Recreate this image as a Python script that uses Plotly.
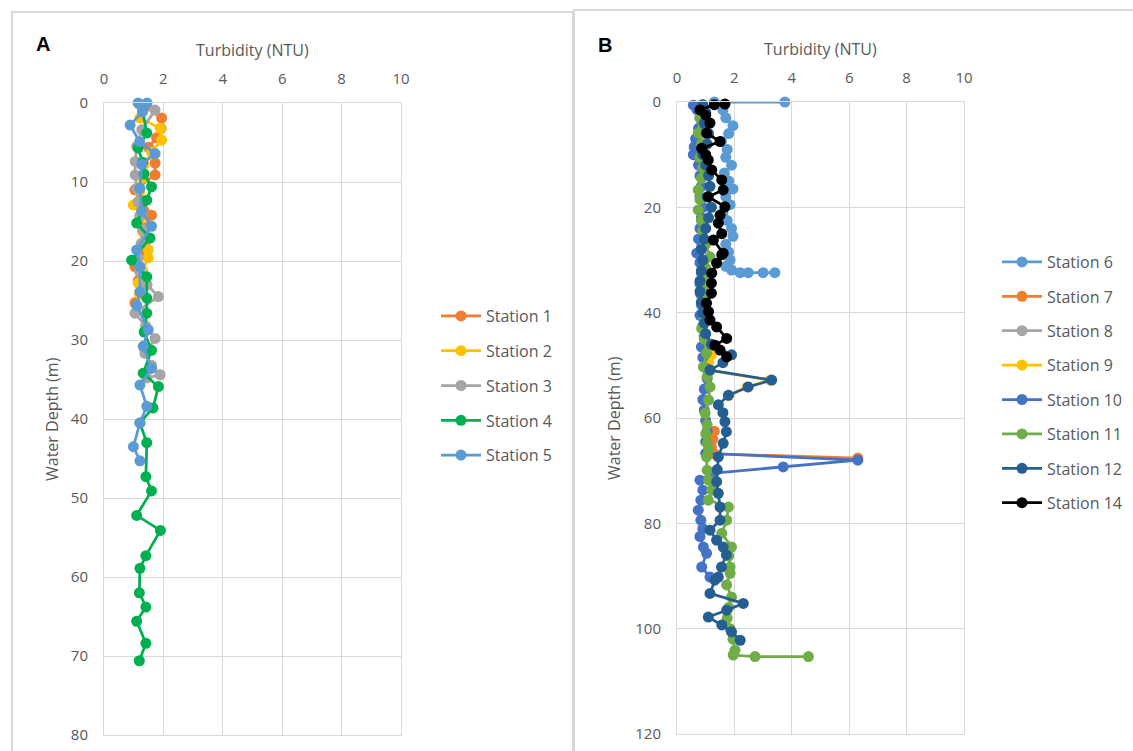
import plotly.graph_objects as go

# ---------------- Panel A data (turbidity NTU vs depth m) ----------------
s1_depth = [0.3, 1.9, 3.2, 4.4, 5.6, 7.6, 9.1, 11.0, 12.4, 14.2, 15.8, 17.5, 19.2, 20.7, 22.5, 24.0, 25.3]
s1_turb = [1.3, 1.94, 1.92, 1.77, 1.5, 1.72, 1.72, 1.04, 1.3, 1.6, 1.35, 1.4, 1.25, 1.04, 1.15, 1.2, 1.04]

s2_depth = [0.2, 1.9, 3.2, 4.7, 6.2, 7.8, 9.5, 11.2, 12.9, 14.5, 16.3, 18.6, 19.6, 21.2, 22.8, 24.2]
s2_turb = [1.2, 1.21, 1.89, 1.94, 1.6, 1.35, 1.3, 1.2, 0.99, 1.25, 1.3, 1.49, 1.49, 1.3, 1.15, 1.2]

s3_depth = [0.9, 3.4, 5.5, 7.4, 9.1, 10.8, 12.5, 14.3, 16.0, 17.8, 19.6, 21.3, 23.0, 24.5, 26.6,
            28.2, 29.8, 31.7, 33.2, 34.4, 34.8]
s3_turb = [1.72, 1.27, 1.1, 1.05, 1.05, 1.1, 1.15, 1.2, 1.3, 1.25, 1.15, 1.2, 1.45, 1.83, 1.04,
           1.4, 1.72, 1.38, 1.6, 1.89, 1.44]

s4_depth = [1.0, 3.8, 5.7, 7.5, 9.0, 10.6, 12.3, 15.2, 17.1, 19.9, 22.0, 24.7, 26.6, 29.0, 31.3,
            34.2, 35.9, 38.6, 40.5, 43.0, 47.3, 49.1, 52.2, 54.1, 57.3, 58.9, 62.0, 63.8, 65.6,
            68.4, 70.6]
s4_turb = [1.3, 1.44, 1.15, 1.3, 1.35, 1.6, 1.44, 1.1, 1.55, 0.93, 1.44, 1.44, 1.44, 1.35, 1.6,
           1.32, 1.83, 1.65, 1.21, 1.44, 1.41, 1.6, 1.1, 1.9, 1.41, 1.21, 1.19, 1.41, 1.1,
           1.41, 1.19]

s5_depth = [0.0, 0.0, 1.1, 2.8, 4.9, 6.4, 7.8, 10.8, 13.7, 15.6, 18.6, 20.7, 23.9, 25.6, 28.7,
            30.8, 33.6, 35.7, 38.4, 40.5, 43.5, 45.3]
s5_turb = [1.15, 1.45, 1.3, 0.88, 1.2, 1.72, 1.27, 1.21, 1.27, 1.6, 1.1, 1.21, 1.21, 1.1, 1.49,
           1.32, 1.6, 1.21, 1.44, 1.21, 0.99, 1.21]

# ---------------- Panel B data ----------------
s6_depth = [0.0, 0.0, 1.5, 3.0, 4.5, 6.0, 7.5, 9.0, 10.5, 12.0, 13.5, 15.0, 16.5, 18.0, 19.5,
            21.0, 22.5, 24.0, 25.5, 27.0, 28.5, 30.0, 31.2, 31.9, 32.4, 32.4, 32.4, 32.4]
s6_turb = [3.76, 1.3, 1.6, 1.7, 1.95, 1.8, 1.55, 1.75, 1.7, 1.9, 1.65, 1.8, 1.95, 1.7, 1.85,
           1.6, 1.75, 1.9, 1.95, 1.7, 1.8, 1.85, 1.7, 1.9, 2.2, 2.48, 3.0, 3.41]

s7_depth = [62.5, 64.0, 65.5, 66.8, 67.6]
s7_turb = [1.3, 1.25, 1.2, 1.3, 6.3]

s8_depth = [0.5, 2.0, 3.5, 5.0, 6.5]
s8_turb = [0.9, 1.0, 0.85, 0.95, 1.0]

s9_depth = [48.0, 49.5, 51.0, 52.8, 54.1, 55.7]
s9_turb = [1.2, 1.1, 1.15, 3.25, 2.45, 1.8]

s10_depth = [0.6, 1.5, 3.0, 5.0, 7.0, 8.5, 10.0, 12.0, 14.0, 16.0, 18.0, 20.0, 22.0, 24.0, 26.0,
             28.7, 30.5, 32.5, 34.5, 36.5, 38.5, 40.5, 42.5, 44.5, 46.5, 48.5, 50.5, 52.5, 54.5,
             56.5, 58.5, 60.5, 62.5, 64.5, 66.7, 68.0, 69.3, 70.5, 71.8, 73.7, 75.6, 77.5, 79.4,
             81.0, 82.5, 84.5, 85.7, 88.3, 90.2]
s10_turb = [0.57, 0.7, 0.8, 0.75, 0.65, 0.6, 0.57, 0.75, 0.8, 0.85, 0.8, 0.9, 0.85, 0.8, 0.75,
            0.69, 0.8, 0.85, 0.8, 0.82, 0.85, 0.8, 0.9, 0.95, 0.85, 0.9, 1.0, 1.05, 0.95,
            0.9, 0.95, 1.0, 1.05, 1.0, 1.0, 6.3, 3.7, 1.2, 0.8, 0.9, 0.83, 0.74, 0.83,
            0.9, 0.8, 0.92, 1.03, 0.86, 1.15]

s11_depth = [1.0, 3.0, 5.9, 8.0, 10.5, 12.5, 14.5, 16.7, 18.5, 20.5, 22.5, 24.5, 27.0, 29.4, 31.5,
             33.5, 35.5, 37.5, 39.5, 41.5, 43.0, 45.0, 47.7, 50.3, 52.2, 54.1, 56.6, 59.1, 61.3,
             63.0, 64.8, 66.0, 67.4, 69.9, 71.8, 73.7, 75.6, 76.9, 79.4, 81.9, 84.5, 86.2, 88.3,
             89.5, 91.7, 94.0, 96.0, 98.0, 100.0, 102.0, 104.1, 105.0, 105.3, 105.3]
s11_turb = [0.9, 0.8, 0.74, 0.85, 0.8, 0.9, 0.85, 0.74, 0.8, 0.74, 0.85, 0.9, 1.0, 1.15, 1.0,
            0.95, 0.9, 0.92, 1.0, 0.95, 0.86, 0.95, 1.03, 0.92, 1.05, 1.15, 1.1, 0.98, 1.05,
            1.0, 1.05, 1.1, 1.03, 1.05, 1.1, 1.21, 1.09, 1.79, 1.73, 1.56, 1.9, 1.8, 1.85,
            1.85, 1.73, 1.9, 1.8, 1.75, 1.85, 1.95, 2.02, 1.96, 2.72, 4.58]

s12_depth = [0.5, 2.0, 4.0, 6.0, 8.0, 10.0, 12.0, 14.0, 16.0, 18.0, 20.0, 22.0, 24.0, 26.0, 28.0,
             30.0, 32.0, 34.0, 36.0, 38.0, 40.0, 42.0, 44.0, 46.0, 48.0, 49.5, 50.9, 52.8, 54.1,
             55.7, 57.5, 59.0, 60.7, 62.6, 64.8, 67.4, 69.8, 72.1, 74.3, 76.9, 79.4, 81.3, 83.2,
             84.5, 86.0, 88.3, 90.2, 90.8, 93.3, 95.2, 96.5, 97.8, 99.3, 100.6, 102.2]
s12_turb = [0.9, 1.0, 0.95, 1.1, 1.05, 0.9, 1.0, 1.1, 1.15, 1.05, 1.2, 1.1, 1.0, 0.95, 0.85,
            0.9, 0.85, 0.8, 0.8, 0.85, 0.9, 0.95, 1.0, 1.2, 1.9, 1.6, 1.15, 3.3, 2.48,
            1.79, 1.44, 1.6, 1.67, 1.72, 1.61, 1.44, 1.4, 1.38, 1.44, 1.5, 1.5, 1.15, 1.38,
            1.61, 1.72, 1.55, 1.44, 1.32, 1.15, 2.31, 1.73, 1.09, 1.56, 1.9, 2.2]

s14_depth = [0.4, 0.5, 1.5, 2.5, 4.0, 5.9, 7.5, 8.8, 10.0, 11.0, 12.9, 14.8, 16.7, 18.0, 19.9,
             21.5, 23.0, 25.0, 26.2, 28.7, 29.0, 30.6, 32.5, 34.4, 36.3, 38.2, 39.8, 41.4, 42.7,
             44.9, 46.2, 47.1, 48.4]
s14_turb = [1.67, 1.3, 0.8, 1.0, 1.15, 1.03, 1.5, 0.86, 1.0, 1.09, 1.21, 1.56, 1.61, 1.09, 1.67,
            1.5, 1.44, 1.56, 1.27, 1.61, 1.56, 1.38, 1.21, 1.2, 1.2, 1.03, 1.1, 1.15, 1.38,
            1.73, 1.32, 1.5, 1.73]

panel_a = [("Station 1", s1_turb, s1_depth, "#ED7D31"),
           ("Station 2", s2_turb, s2_depth, "#FFC000"),
           ("Station 3", s3_turb, s3_depth, "#A5A5A5"),
           ("Station 4", s4_turb, s4_depth, "#00B050"),
           ("Station 5", s5_turb, s5_depth, "#5B9BD5")]
panel_b = [("Station 6", s6_turb, s6_depth, "#5B9BD5"),
           ("Station 7", s7_turb, s7_depth, "#ED7D31"),
           ("Station 8", s8_turb, s8_depth, "#A5A5A5"),
           ("Station 9", s9_turb, s9_depth, "#FFC000"),
           ("Station 10", s10_turb, s10_depth, "#4472C4"),
           ("Station 11", s11_turb, s11_depth, "#70AD47"),
           ("Station 12", s12_turb, s12_depth, "#255E91"),
           ("Station 14", s14_turb, s14_depth, "#000000")]

x_ticks = [0, 2, 4, 6, 8, 10]
ya_ticks = [0, 10, 20, 30, 40, 50, 60, 70, 80]
yb_ticks = [0, 20, 40, 60, 80, 100, 120]

W, H = 1133, 751
FONT = "Open Sans"
GRAY = "#595959"
GRID = "#D9D9D9"


def px(x):
    return x / W


def py(y):
    return 1 - y / H


fig = go.Figure()
for name, t, d, c in panel_a:
    fig.add_trace(go.Scatter(x=t, y=d, name=name, mode="lines+markers",
                             line=dict(color=c, width=2.75), marker=dict(color=c, size=11),
                             xaxis="x", yaxis="y", legend="legend", legendgroup=name,
                             cliponaxis=False))
for name, t, d, c in panel_b:
    fig.add_trace(go.Scatter(x=t, y=d, name=name, mode="lines+markers",
                             line=dict(color=c, width=2.75), marker=dict(color=c, size=11),
                             xaxis="x2", yaxis="y2", legend="legend2", legendgroup=name,
                             cliponaxis=False))

axis_common = dict(showgrid=True, gridcolor=GRID, gridwidth=1, zeroline=False, automargin=False,
                   showline=True, linecolor=GRID, linewidth=1, mirror=True, ticks="",
                   tickfont=dict(family=FONT, size=15, color=GRAY))

legend_common = dict(font=dict(family=FONT, size=16, color=GRAY), bgcolor="rgba(0,0,0,0)",
                     itemwidth=40, xanchor="left", yanchor="top")


def note(text, x, y, size=16, color=GRAY, family=FONT, angle=0):
    return dict(text=text, x=px(x), y=py(y), xref="paper", yref="paper", showarrow=False,
                xanchor="center", yanchor="middle", textangle=angle,
                font=dict(family=family, size=size, color=color))


fig.update_layout(
    template="none",
    width=W, height=H, margin=dict(l=0, r=0, t=0, b=0, pad=0), autosize=False,
    paper_bgcolor="white", plot_bgcolor="white", showlegend=True,
    xaxis=dict(domain=[px(104), px(401)], range=[0, 10], tickvals=x_ticks, side="top",
               anchor="y", ticklabelstandoff=12, **axis_common),
    yaxis=dict(domain=[py(735), py(103)], range=[80, 0], tickvals=ya_ticks, anchor="x",
               ticklabelstandoff=12, **axis_common),
    xaxis2=dict(domain=[px(677), px(964)], range=[0, 10], tickvals=x_ticks, side="top",
                anchor="y2", ticklabelstandoff=12, **axis_common),
    yaxis2=dict(domain=[py(734), py(102)], range=[120, 0], tickvals=yb_ticks, anchor="x2",
                ticklabelstandoff=12, **axis_common),
    legend=dict(x=px(436), y=py(299), tracegroupgap=11, **legend_common),
    legend2=dict(x=px(997), y=py(245), tracegroupgap=10.6, **legend_common),
    shapes=[
        dict(type="rect", xref="paper", yref="paper", x0=px(12), x1=px(573), y0=py(770), y1=py(12),
             line=dict(color=GRID, width=2), layer="below"),
        dict(type="rect", xref="paper", yref="paper", x0=px(574), x1=px(1145), y0=py(770), y1=py(10),
             line=dict(color=GRID, width=2), layer="below"),
    ],
    annotations=[
        note("<b>A</b>", 43, 44, size=20, color="black", family="Liberation Sans"),
        note("<b>B</b>", 605, 45, size=20, color="black", family="Liberation Sans"),
        note("Turbidity (NTU)", 252.5, 50),
        note("Turbidity (NTU)", 820.5, 49),
        note("Water Depth (m)", 52, 419, angle=-90),
        note("Water Depth (m)", 614, 418, angle=-90),
    ],
)

fig.write_html("out.html", config={"displayModeBar": False},
               post_script="document.body.style.margin='0px';")
